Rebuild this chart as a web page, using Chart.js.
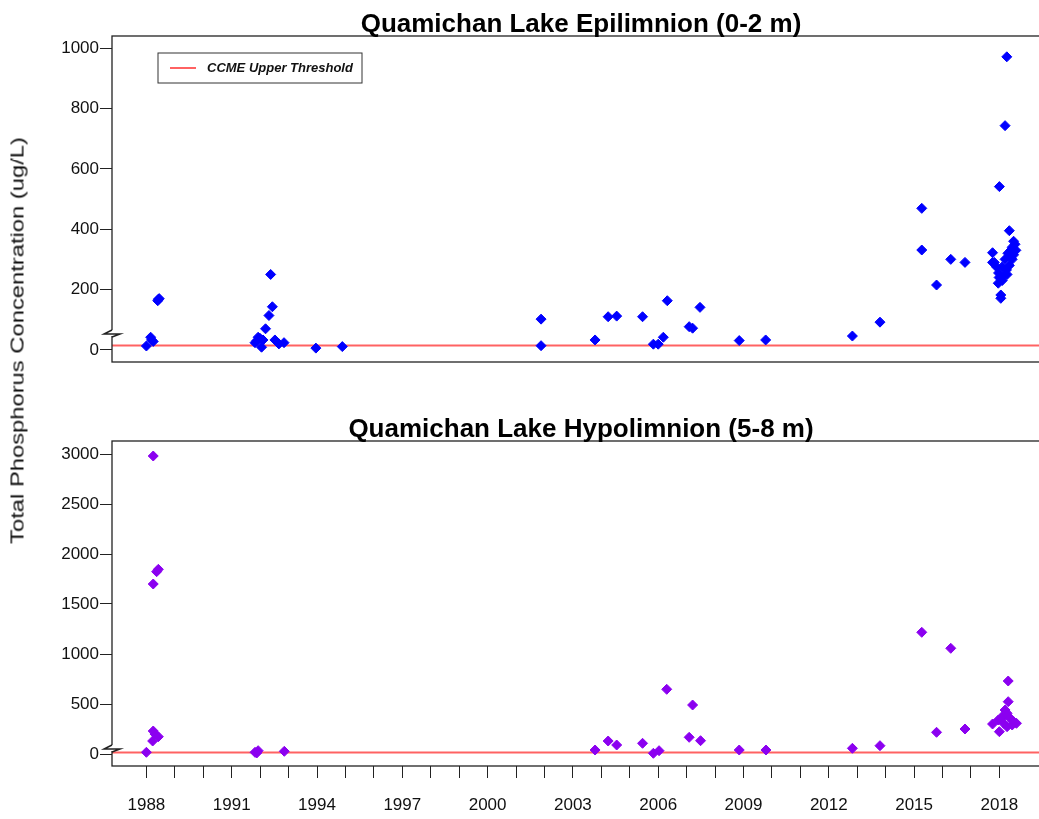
<!DOCTYPE html>
<html>
<head>
<meta charset="utf-8">
<script src="https://cdn.jsdelivr.net/npm/chart.js@4.4.0/dist/chart.umd.min.js"></script>
<style>
  html, body { margin: 0; padding: 0; background: #fff; }
  #wrap { position: relative; width: 1039px; height: 819px; overflow: hidden; }
  canvas { position: absolute; left: 0; }
  .title { position: absolute; left: 0; width: 1162px; text-align: center; line-height: 30px;
           font: bold 26px "Liberation Sans", Arial, sans-serif; color: #000; }
  #ylab { position: absolute; width: 500px; left: -232px; top: 330px; line-height: 22px; text-align: center;
          font: 18px "Liberation Sans", Arial, sans-serif; color: #111; transform: rotate(-90deg) scaleX(1.32); }
</style>
</head>
<body>
<div id="wrap">
  <canvas id="epi" width="1060" height="400" style="top:0"></canvas>
  <canvas id="hypo" width="1060" height="419" style="top:400px"></canvas>
  <div class="title" style="top:8px">Quamichan Lake Epilimnion (0-2 m)</div>
  <div class="title" style="top:413px">Quamichan Lake Hypolimnion (5-8 m)</div>
  <div id="ylab">Total Phosphorus Concentration (ug/L)</div>
</div>
<script>
// sampling dates (decimal years) and total phosphorus (ug/L)
const epiYear = [1988.00, 1988.15, 1988.18, 1988.24, 1988.40, 1988.42, 1988.45,
  1991.82, 1991.88, 1991.93, 1992.00, 1992.05, 1992.10, 1992.19, 1992.31, 1992.37, 1992.43, 1992.52, 1992.66, 1992.84, 1993.96, 1994.89,
  2001.88, 2001.88, 2003.78, 2004.24, 2004.54, 2005.45, 2005.83, 2006.00, 2006.18, 2006.32, 2007.09, 2007.21, 2007.47, 2008.85, 2009.78, 2012.83, 2013.80,
  2015.27, 2015.27, 2015.79, 2016.29, 2016.79,
  2017.76, 2017.76, 2017.82, 2017.90, 2017.96, 2017.97, 2018.00, 2018.05, 2018.05, 2018.10, 2018.15, 2018.20, 2018.20, 2018.26, 2018.27, 2018.30, 2018.35, 2018.40, 2018.45, 2018.50, 2018.50, 2018.55, 2018.58,
  2018.10, 2018.35, 2018.45, 2018.25, 2018.40, 2017.99];
const epiTP = [13, 42, 33, 28, 163, 168, 170,
  24, 30, 42, 38, 9, 33, 70, 114, 250, 143, 33, 20, 24, 6, 11,
  102, 14, 33, 110, 112, 110, 19, 19, 42, 163, 77, 72, 141, 31, 33, 46, 92,
  469, 331, 215, 300, 290,
  322, 290, 290, 275, 221, 255, 541, 182, 171, 275, 245, 300, 743, 971, 250, 320, 395, 305, 340, 360, 315, 350, 330,
  230, 280, 300, 265, 330, 240];

const hypoYear = [1988.00, 1988.22, 1988.24, 1988.24, 1988.24, 1988.30, 1988.36, 1988.42, 1988.42,
  1991.82, 1991.88, 1991.93, 1992.85,
  2003.78, 2004.24, 2004.54, 2005.45, 2005.83, 2006.03, 2006.30, 2007.09, 2007.21, 2007.49, 2008.85, 2009.79, 2012.83, 2013.80,
  2015.27, 2015.79, 2016.29, 2016.79,
  2017.76, 2017.96, 2018.00, 2018.10, 2018.15, 2018.15, 2018.20, 2018.27, 2018.27, 2018.31, 2018.31, 2018.38, 2018.45, 2018.50, 2018.60];
const hypoTP = [17, 130, 230, 1700, 2980, 200, 1823, 1847, 173,
  17, 10, 33, 27,
  40, 130, 90, 107, 7, 33, 647, 167, 490, 133, 40, 40, 57, 83,
  1217, 217, 1057, 250,
  300, 340, 223, 357, 390, 307, 440, 407, 273, 523, 730, 357, 290, 323, 307];

const ccmeUpper = 15;
const epiTicks = [0, 200, 400, 600, 800, 1000];
const hypoTicks = [0, 500, 1000, 1500, 2000, 2500, 3000];
const yearLabels = [1988, 1991, 1994, 1997, 2000, 2003, 2006, 2009, 2012, 2015, 2018];

const xMin = 1986.79, xMax = 2019.78;
const font = { family: '"Liberation Sans", Arial, sans-serif', size: 17 };

const decor = {
  id: 'decor',
  afterDraw(chart, args, opts) {
    const { ctx, chartArea: a } = chart;
    ctx.save();
    ctx.strokeStyle = '#222';
    ctx.lineWidth = 1.3;
    ctx.strokeRect(a.left, a.top, a.right - a.left, a.bottom - a.top);
    // axis break mark
    const yb = chart.scales.y.getPixelForValue(opts.breakAt);
    ctx.fillStyle = '#fff';
    ctx.fillRect(a.left - 2, yb - 3, 4, 6);
    ctx.lineWidth = 1.5;
    ctx.beginPath();
    ctx.moveTo(a.left, yb - 3);
    ctx.lineTo(a.left - 8, yb + 1);
    ctx.lineTo(a.left + 8, yb + 1);
    ctx.lineTo(a.left, yb + 4);
    ctx.stroke();
    if (opts.legend) {
      const lx = a.left + 46, ly = 53;
      ctx.lineWidth = 1;
      ctx.strokeStyle = '#333';
      ctx.strokeRect(lx, ly, 204, 30);
      ctx.strokeStyle = 'rgba(255,70,70,0.85)';
      ctx.lineWidth = 2;
      ctx.beginPath();
      ctx.moveTo(lx + 12, ly + 15);
      ctx.lineTo(lx + 38, ly + 15);
      ctx.stroke();
      ctx.fillStyle = '#111';
      ctx.font = 'italic bold 13px "Liberation Sans", Arial, sans-serif';
      ctx.textBaseline = 'middle';
      ctx.fillText('CCME Upper Threshold', lx + 49, ly + 15);
    }
    ctx.restore();
  }
};

function makeChart(id, years, values, color, yMin, yMax, yTicks, breakAt, showX, pad) {
  const pts = years.map((x, i) => ({ x: x, y: values[i] }));
  return new Chart(document.getElementById(id), {
    type: 'scatter',
    data: {
      datasets: [{
        data: pts,
        pointStyle: 'rectRot',
        pointRadius: 5,
        pointBackgroundColor: color,
        pointBorderColor: color,
        pointBorderWidth: 1,
        order: 0
      }, {
        type: 'line',
        data: [{ x: xMin, y: ccmeUpper }, { x: xMax, y: ccmeUpper }],
        showLine: true,
        borderColor: 'rgba(255,70,70,0.85)',
        borderWidth: 2,
        pointRadius: 0,
        order: 1
      }]
    },
    options: {
      responsive: false,
      animation: false,
      layout: { padding: pad },
      plugins: {
        legend: { display: false },
        tooltip: { enabled: false },
        decor: { breakAt: breakAt, legend: !showX }
      },
      scales: {
        x: {
          type: 'linear',
          display: showX,
          min: xMin, max: xMax,
          afterBuildTicks: s => {
            const t = [];
            for (let v = 1988; v <= 2018; v++) t.push({ value: v });
            s.ticks = t;
          },
          afterFit: s => { if (showX) s.height = 53; },
          ticks: {
            autoSkip: false, maxRotation: 0, padding: 17, color: '#111', font: font,
            callback: v => yearLabels.includes(v) ? String(v) : ''
          },
          grid: { drawOnChartArea: false, tickLength: 12, color: '#222' },
          border: { display: false }
        },
        y: {
          min: yMin, max: yMax,
          afterBuildTicks: s => { s.ticks = yTicks.map(v => ({ value: v })); },
          afterFit: s => { s.width = 112; },
          ticks: { padding: 1, color: '#111', font: font, callback: v => String(v) },
          grid: { drawOnChartArea: false, tickLength: 12, color: '#222' },
          border: { display: false }
        }
      }
    },
    plugins: [decor]
  });
}

makeChart('epi', epiYear, epiTP, '#0000ff', -40, 1040, epiTicks, 56, false,
  { left: 0, top: 36, right: 10, bottom: 38 });
makeChart('hypo', hypoYear, hypoTP, '#8b00f0', -120, 3130, hypoTicks, 60, true,
  { left: 0, top: 41, right: 10, bottom: 0 });
</script>
</body>
</html>
